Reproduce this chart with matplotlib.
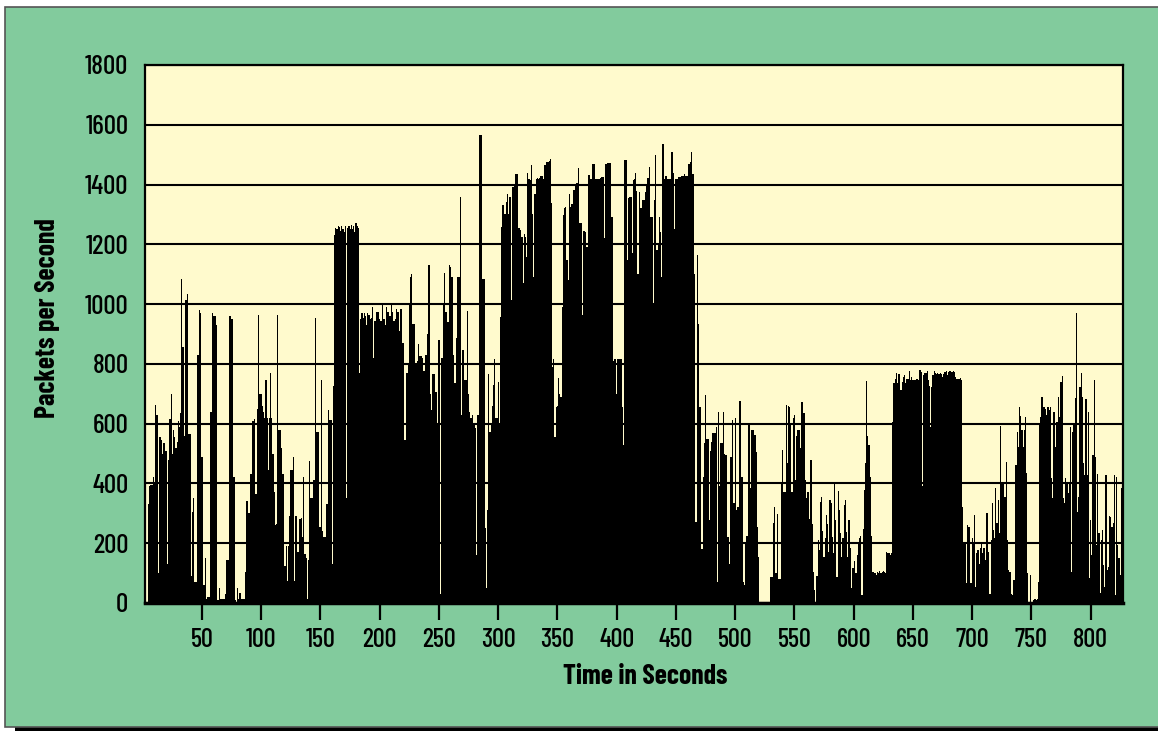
import numpy as np
import matplotlib
matplotlib.use('Agg')
import matplotlib.pyplot as plt
from matplotlib.patches import Rectangle

# packets per second, one value per second
start_sec = 3
pps_003 = [0,0,330,390,395,395,420,400,664,630,100,555,555,545,500,535,510,510,130,480,615,698,500,580,555,520,540,610,590,635,1083]
pps_034 = [857,560,1013,1013,1035,567,567,90,305,350,70,70,830,830,980,970,490,60,60,150,15,20,20,640,640,970,960,960,930,10,10,50,15,15,15,15,30,145,145,960,960,950,950,420,10,5,50,15,35,15,15,15,15,105,340,300,300,430,430,610,615,365,365,650,963,700,700,660,640,620,745,620,445,620,770,620,500,372,260,265,965,578,578,520,430,430,125,190,75,190,290,445,445,487,75,290,290,170,280,280,285,220,420,165,150,15,145,475,350,350,410,410,955,573,573,255,255,745,240,220,220,330,330,645,612,612,130,725]
pps_162 = [1230,1255,1250,1262,1258,1245,1260,1250,1240,1260,350,1255,1260,1250,1265,1250,1260,1240,1270,1260,1255]
pps_183 = [770,950,970,955,970,960,930,970,965,950,955,990,820,945,975,975,975,950,945,1000,950,950,930,990,975,960,960,1000,975,945,950,985,975,975,910,985,870,870,545,545,770,800,1000,1090,1100,935,935,800,800,810,865,825,825,820,775,775,830,900,1130,1130,700,645,765,765,705,705,600,880,30,820,820,1000,1105,975,940,940,1130,1125,1090,830,735,735,885,1090,1090,1360,630,845,845,745,745,978,700]
pps_276 = [640,618,630,600,600,585,160,630,1565,1565,1565,1083,1083,250,50,310,765,573,600,660,730,818,618,618,740,600,958,1258,1330,1303,1303,1342,1370,1303,1360,1013,1393,1393,1400,1435,1435,1253,1253,1248,1225,1071,1235,1225,1158,1437,1420,1415,1467,1300,1090,1370,1420,1422,1420,1422,1430,1430,1420,1465,1465,1476,1476,1480,1484,1337]
pps_346 = [790,815,556,657,660,754,700,690,990,1298,1320,1326,1147,1080,1370,1325,1335,1335,1381,1400,1405,1405,1457,1273,1273,963,1244,1244,1240,1192,1432,1432,1420,1418,1468,1470,1420,1420,1420,1420,1422,1425,1425,1425,1220,1470,1472,1472,1472,1472,1290]
pps_397 = [810,815,815,700,815,815,815,815,657,530]
pps_407 = [1482,1482,1147,1354,1360,1360,1170,1415,1420,1440,1380,1100,1376,1320,1320,1350,1350,1376,1400,1423,1423,1460,1290,1290,1000,1350,1498,1180,1200,1290,1240,1090,1535,1420,1430,1430,1420,1420,1420,1510,1510,1437,1250,1420,1420,1425,1425,1425,1430,1430,1435,1430,1430,1430,1470,1476,1510,1435,1435,1100,270,1164,935,657,657]
pps_472 = [180,420,534,695,550,550,277,510,540,570,570,570,590,70,640,390,534,534,640,500,495,495,220,130,490,490,612,335,618,310,320,320,677,420,420,70,60,200,225,603,603,385,578,578,562,562,505,255,153,0]
pps_522 = [0,0,0,0,0,0,0,0,88,88,266,320,100,100,297,80,80,400,512,370,370,662,470,660,655,600,370,620,630,410,560,580,580]
pps_555 = [520,673,673,635,410,350,372,370,280,478,265,105,43,5,90,210,177,339,353,240,155,216,294,263,172,345,333,222,166,406,278,88,376,311,233,155,216,328,345,239,155,278,183,49,116,116,142,99,160,200,216,224,27,246,378,467,742,558,528,423,224]
pps_616 = [105,105,100,94,103,100,108,100,103,108,105,100,172,166,168,160,166]
pps_633 = [607,737,751,768,737,766,766,712,740,757,763,737,751,751,776,746,755,746,746,746,748,748,746,780,774,390,763,770,768,777,746,725,590,722,763,777,768,766,768,766,768,766,757,766,774,777,763,774,776,777,774,777,774,757,748,750,748,753,746]
pps_692 = [320,205,205,66,260,255,255,66,216,205,294,55,166,177,130,183,205,166,183,144,300,300,172,30,210,333,244,216,384,266,345,233,592,406,406,355,355,473,210,110,105,30,27,77,77,462,573,523,657,625,578,523,578,621,434,100,5,94,5,5,10,15,10,15,70,595]
pps_758 = [623,690,657,657,650,629,657,645,657,417,350,640,523,607,607,690,623,740,759,350,333,417,400,367,400,588,105,573,595,685,969,305,355,724,770,690,467,428,681,428,640,82,278,160,495,746,490,194,431,233,32,210,244,127,55,428,110,121,291,288,255,266,428,27,422,194,150,94,384,378]

pps = np.array(pps_003 + pps_034 + pps_162 + pps_183 + pps_276 + pps_346 + pps_397 + pps_407
               + pps_472 + pps_522 + pps_555 + pps_616 + pps_633 + pps_692 + pps_758)
seconds = start_sec + np.arange(len(pps))

x_ticks = list(range(50, 801, 50))
y_ticks = list(range(0, 1801, 200))

GREEN = '#82CB9D'
CREAM = '#FFFACD'
FONT = ['Barlow Condensed', 'Liberation Sans', 'DejaVu Sans']
W, H = 1158, 731

fig = plt.figure(figsize=(W / 100, H / 100), dpi=100, facecolor='white')

# panel and its shadow, in pixel terms
fig.patches.append(Rectangle((15 / W, 0), 1 - 15 / W, 5 / H, transform=fig.transFigure, facecolor='black', edgecolor='none', zorder=-2))
fig.patches.append(Rectangle((5 / W, 1 - 727 / H), 1.1 - 5 / W, 720 / H, transform=fig.transFigure, facecolor=GREEN, edgecolor='#555555', linewidth=1.2, zorder=-1))

ax = fig.add_axes([145 / W, 1 - 603 / H, (1123 - 145) / W, (603 - 65) / H], zorder=2)
ax.set_facecolor(CREAM)
ax.bar(seconds, pps, width=1.0, color='black', linewidth=0, zorder=3)
ax.set_xlim(1.9, 827.3)
ax.set_ylim(0, 1800)
ax.set_xticks(x_ticks)
ax.set_yticks(y_ticks)
ax.yaxis.grid(True, color='black', linewidth=1.5, zorder=1)
ax.set_axisbelow(True)
ax.tick_params(axis='x', length=12, width=1.6, pad=6, labelsize=19, color='black')
ax.tick_params(axis='y', length=0, pad=12, labelsize=19.5)
for lab in ax.get_xticklabels() + ax.get_yticklabels():
    lab.set_family(FONT)
    lab.set_weight(500)
for s in ax.spines.values():
    s.set_linewidth(1.6)
    s.set_color('black')
ax.spines['bottom'].set_linewidth(2.5)

fig.text(645 / W, 1 - 677 / H, 'Time in Seconds', family=FONT, weight='bold', size=20, ha='center', va='center')
fig.text(48 / W, 1 - 318 / H, 'Packets per Second', family=FONT, weight='bold', size=20, rotation=90, ha='center', va='center')

fig.savefig('out.png', dpi=100, facecolor=fig.get_facecolor())
